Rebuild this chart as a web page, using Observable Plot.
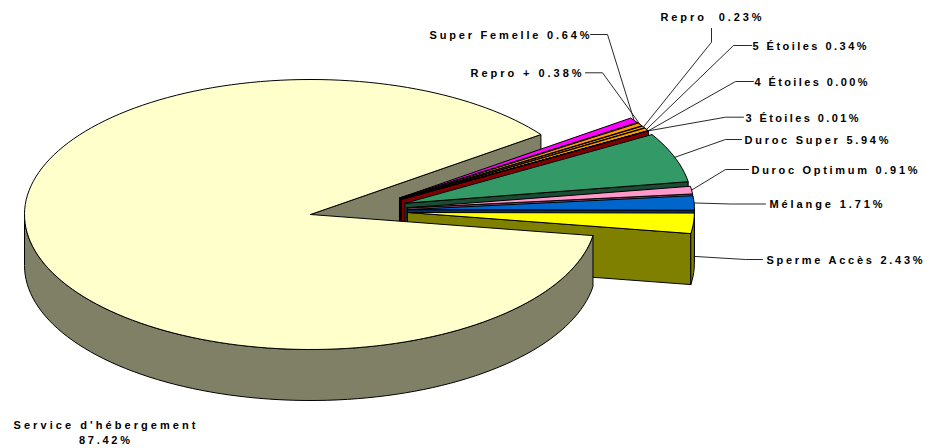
<!DOCTYPE html>
<html>
<head>
<meta charset="utf-8">
<script src="https://cdn.jsdelivr.net/npm/d3@7"></script>
<script src="https://cdn.jsdelivr.net/npm/@observablehq/plot@0.6"></script>
<style>
html,body{margin:0;padding:0;background:#fff}
svg{display:block}
</style>
</head>
<body>
<div id="chart"></div>
<script>
// ---- chart values (counter-clockwise from the main slice's end)
const categories = ["Sperme Accès","Mélange","Duroc Optimum","Duroc Super","3 Étoiles","4 Étoiles","5 Étoiles","Repro\u00a0","Repro +","Super Femelle"];
const values     = [2.43,1.71,0.91,5.94,0.01,0.00,0.34,0.23,0.38,0.64];
const mainCategory = "Service d'hébergement";
const mainValue    = 87.42;

// ---- colours
const topColors  = ["#FFFF00","#0066CC","#FF99CC","#339966","#FF0000","#FF9900","#FF9900","#FF9900","#FF9900","#FF00FF"];
const sideColors = ["#808000","#003366","#804D66","#1A4D33","#800000","#804D00","#804D00","#804D00","#804D00","#800080"];
const mainTop = "#FFFFCC", mainSide = "#808066";

// ---- layout (pixels, separate from the data)
const C = {x:310, y:214}, rxMain = 286, rx = 287, ry = 135, depth = 51, startDeg = 9;
const labelX = [766,769,751,744,745,754,752,660,470,429];
const labelY = [260,204,170,139.5,118,82,46,17,73,35];
const labelW = [156,113,166,144,113,113,114,101,111,160];
const mainLabelW = [182,51];
const startX = [762,765,748,741,743,753,751,711,585,590];
const startY = [259,203.5,169,139,116.7,81,45,28,72.3,34];
const elbowX = [745,730,725,725,725,735,733,711,602,607];
const elbowY = [259,203.5,169,139,116.7,81,45,41.7,72.3,34];

const rad = d => d * Math.PI / 180;
const pt = (c, deg, dz = 0, r = rx) => ({x: c.x + r * Math.cos(rad(deg)), y: c.y + ry * Math.sin(rad(deg)) + dz});
const arc = (c, a, b, dz = 0, r = rx) => {
  const n = Math.max(1, Math.ceil(Math.abs(b - a) / 2));
  return d3.range(n + 1).map(i => pt(c, a + (b - a) * i / n, dz, r));
};
const closed = pts => [...pts, pts[0]];

// slice angular extents from the values
let acc = startDeg;
const slices = values.map((v, i) => {
  const a0 = acc, a1 = acc - v * 3.6; acc = a1;
  const m = (a0 + a1) / 2;
  const c = {
    x: C.x + 53 + 44 * Math.cos(rad(m)),
    y: C.y - 3.8 + 22 * Math.sin(rad(m))
  };
  return {i, a0, a1, m, c, top: topColors[i], side: sideColors[i]};
});
const mainStart = acc;            // upper edge of the notch
const mainEnd = startDeg - 360 ;  // goes the long way round

const polys = [];
// notch wall of the big slice (behind the exploded slices)
polys.push({fill: mainSide, pts: closed([C, pt(C, mainStart, 0, rxMain), pt(C, mainStart, depth, rxMain), {x: C.x, y: C.y + depth}])});
// exploded slices, back to front
for (const s of [...slices].reverse()) {
  polys.push({fill: s.side, pts: closed([s.c, pt(s.c, s.a0), pt(s.c, s.a0, depth), {x: s.c.x, y: s.c.y + depth}])});
  if (s.a0 > 0) {
    const lo = Math.max(s.a1, 0);
    polys.push({fill: s.side, pts: closed([...arc(s.c, s.a0, lo), ...arc(s.c, lo, s.a0, depth)])});
  }
  polys.push({fill: s.top, pts: closed([s.c, ...arc(s.c, s.a0, s.a1)])});
}
// big slice outer wall and top
polys.push({fill: mainSide, pts: closed([...arc(C, startDeg, 180, 0, rxMain), ...arc(C, 180, startDeg, depth, rxMain)])});
polys.push({fill: mainTop, pts: closed([C, ...arc(C, mainStart, mainEnd, 0, rxMain)])});

const labels = slices.map(s => ({
  text: `${categories[s.i]} ${values[s.i].toFixed(2)}%`, x: labelX[s.i], y: labelY[s.i]
}));
const leaders = slices.map(s => [
  {x: startX[s.i], y: startY[s.i]},
  {x: elbowX[s.i], y: elbowY[s.i]},
  pt(s.c, s.m, s.m > 0 ? 33 : 0)
]);

const textOpts = {fontFamily: "Liberation Sans", fontWeight: "bold", fontSize: 11, fill: "#000"};
const chart = Plot.plot({
  width: 936, height: 448,
  margin: 0,
  x: {domain: [0, 936], range: [0, 936], axis: null},
  y: {domain: [0, 448], range: [0, 448], axis: null},
  style: {background: "#fff"},
  marks: [
    ...leaders.map(l => Plot.line(l, {x: "x", y: "y", stroke: "#111", strokeWidth: 0.9})),
    ...polys.map(p => Plot.line(p.pts, {x: "x", y: "y", fill: p.fill, stroke: "#000", strokeWidth: 1, strokeLinejoin: "round"})),
    Plot.text(labels, {x: "x", y: "y", text: "text", textAnchor: "start", lineAnchor: "middle", ...textOpts}),
    Plot.text([{text: `${mainCategory}\n${mainValue.toFixed(2)}%`, x: 104, y: 431.5}], {x: "x", y: "y", text: "text",
      textAnchor: "middle", lineAnchor: "middle", lineHeight: 1.36, ...textOpts})
  ]
});
// stretch each label to the width it has in the reference
const texts = [...chart.querySelectorAll("text")];
labelW.forEach((w, i) => texts[i].setAttribute("textLength", w));
[...texts[labelW.length].querySelectorAll("tspan")].forEach((t, i) => t.setAttribute("textLength", mainLabelW[i]));
document.getElementById("chart").appendChild(chart);
</script>
</body>
</html>
